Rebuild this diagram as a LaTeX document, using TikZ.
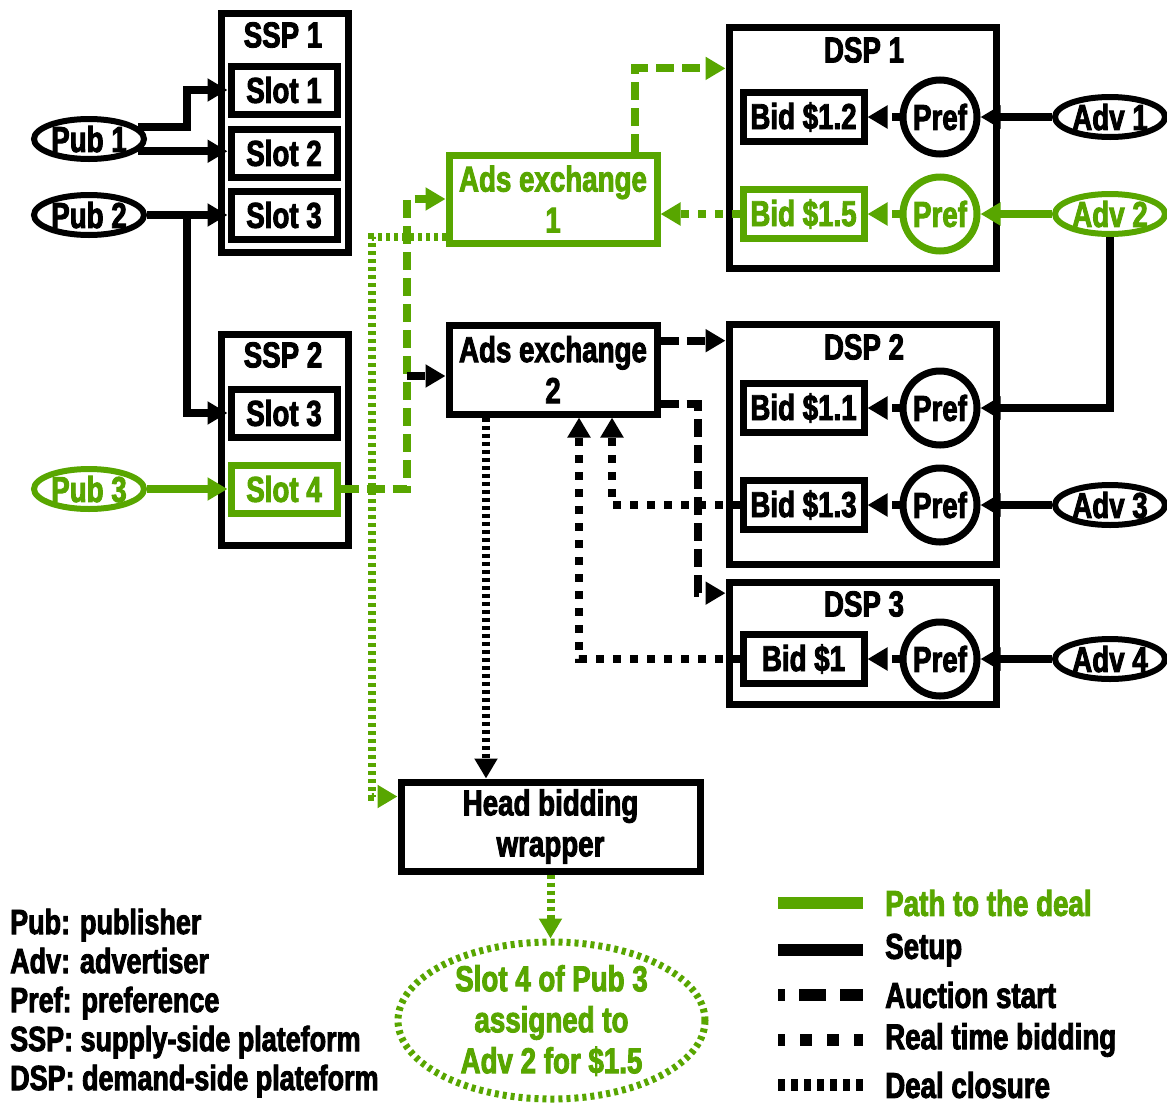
\documentclass[tikz,border=0pt]{standalone}
\usepackage{fontspec}
\setmainfont{Liberation Sans}[UprightFont={* Bold}, FakeStretch=0.77, FakeBold=2.5]
\usetikzlibrary{arrows.meta, shapes.geometric}
\definecolor{dealgreen}{RGB}{88,166,0}
\newcommand{\bigtxt}{\fontsize{36}{41}\selectfont}
\newcommand{\smalltxt}{\fontsize{35}{39}\selectfont}
\newcommand{\flatlbl}[1]{\raisebox{-0.36em}[0pt][0pt]{#1}}

\begin{document}
\begin{tikzpicture}[x=1pt, y=-1pt,
    every node/.style={font=\bigtxt},
    box/.style={draw, line width=7pt, inner sep=0pt},
    slotbox/.style={box, minimum width=106pt, minimum height=48pt},
    bidbox/.style={box, minimum width=121pt, minimum height=49pt},
    prefnode/.style={circle, draw, line width=7pt, minimum size=74pt, inner sep=0pt},
    party/.style={ellipse, draw, line width=6pt, minimum width=110pt, minimum height=40pt, inner sep=0pt},
    win/.style={dealgreen},
    setup/.style={line width=8pt, -{Triangle[length=20pt,width=22pt]}},
    auction/.style={setup, dash pattern=on 18pt off 8pt},
    rtb/.style={setup, dash pattern=on 8pt off 9pt},
    closure/.style={setup, dash pattern=on 4pt off 4pt},
    keyline/.style={line width=12pt},
    legtext/.style={anchor=west, inner sep=0pt}
  ]
  \useasboundingbox (0,0) rectangle (1167,1106);

  % supply side
  \node[box, minimum width=127pt, minimum height=239pt] (ssp1) at (284.5,132.5) {};
  \node (ssp1lbl) at (283,35) {SSP 1};
  \node[slotbox] (slot1) at (284,90) {Slot 1};
  \node[slotbox] (slot2) at (284,153) {Slot 2};
  \node[slotbox] (slot3a) at (284,215) {Slot 3};

  \node[box, minimum width=127pt, minimum height=211pt] (ssp2) at (284.5,439.5) {};
  \node (ssp2lbl) at (283,355) {SSP 2};
  \node[slotbox] (slot3b) at (284,413) {Slot 3};
  \node[slotbox, win] (slot4) at (284,489) {Slot 4};

  \node[party] (pub1) at (89,139) {\flatlbl{Pub 1}};
  \node[party] (pub2) at (89,215) {\flatlbl{Pub 2}};
  \node[party, win] (pub3) at (89,489) {\flatlbl{Pub 3}};

  % exchanges
  \node[box, win, align=center, minimum width=208pt, minimum height=88pt] (ax1) at (553,199) {Ads exchange\\1};
  \node[box, align=center, minimum width=208pt, minimum height=89pt] (ax2) at (553,369.5) {Ads exchange\\2};

  % demand side
  \node[box, minimum width=267pt, minimum height=241pt] (dsp1) at (862.5,147.5) {};
  \node (dsp1lbl) at (864,50) {DSP 1};
  \node[bidbox] (bid12) at (803.5,117) {Bid \$1.2};
  \node[prefnode] (pref11) at (940,117) {Pref};
  \node[party] (adv1) at (1110,117) {\flatlbl{Adv 1}};
  \node[bidbox, win] (bid15) at (803.5,214) {Bid \$1.5};
  \node[prefnode, win] (pref12) at (940,214) {Pref};
  \node[party, win] (adv2) at (1110,214) {\flatlbl{Adv 2}};

  \node[box, minimum width=267pt, minimum height=240pt] (dsp2) at (862.5,444) {};
  \node (dsp2lbl) at (864,347) {DSP 2};
  \node[bidbox] (bid11) at (803.5,408) {Bid \$1.1};
  \node[prefnode] (pref21) at (940,408) {Pref};
  \node[bidbox] (bid13) at (803.5,505) {Bid \$1.3};
  \node[prefnode] (pref22) at (940,505) {Pref};
  \node[party] (adv3) at (1110,505) {\flatlbl{Adv 3}};

  \node[box, minimum width=267pt, minimum height=122pt] (dsp3) at (862.5,643) {};
  \node (dsp3lbl) at (864,604) {DSP 3};
  \node[bidbox] (bid1) at (803.5,659) {Bid \$1};
  \node[prefnode] (pref31) at (940,659) {Pref};
  \node[party] (adv4) at (1110,659) {\flatlbl{Adv 4}};

  % wrapper and outcome
  \node[box, align=center, minimum width=299pt, minimum height=89pt] (hbw) at (550.5,826.5) {Head bidding\\wrapper};
  \node[ellipse, draw, win, line width=7pt, dash pattern=on 4pt off 4pt, align=center,
        minimum width=307pt, minimum height=157pt, inner sep=0pt] (deal) at (551.5,1020.5)
        {Slot 4 of Pub 3\\assigned to\\Adv 2 for \$1.5};

  \coordinate (split2) at (187,215);
  \coordinate (split3) at (407,376);

  % setup
  \draw[setup] (pub1.14) -| (split2 |- slot1) -- (slot1);
  \draw[setup] (pub1.-14) -- (pub1.-14 -| slot2.west);
  \draw[setup] (pub2) -- (slot3a);
  \draw[setup] (split2) |- (slot3b);
  \draw[setup, win] (pub3) -- (slot4);
  \draw[setup] (adv1) -- (pref11);
  \draw[setup, win] (adv2) -- (pref12);
  \draw[setup] (adv2) |- (pref21);
  \draw[setup] (adv3) -- (pref22);
  \draw[setup] (adv4) -- (pref31);

  % auction start
  \draw[auction, win] (slot4) -| (split3) |- (ax1);
  \draw[auction] (split3) -- (split3 -| ax2.west);
  \draw[auction, win] (ax1.30) |- (dsp1.150);
  \draw[auction] (ax2.15) -- (ax2.15 -| dsp2.west);
  \draw[auction] (ax2.-18) -- ++(37,0) |- (dsp3.160);

  % real time bidding
  \foreach \p/\b in {pref11/bid12, pref21/bid11, pref22/bid13, pref31/bid1}
    \draw[rtb] (\p) -- (\b);
  \draw[rtb, win] (pref12) -- (bid15);
  \draw[rtb, win] (bid15) -- (bid15 -| ax1.east);
  \draw[rtb] (bid13) -| ([xshift=59pt]ax2.south);
  \draw[rtb] (bid1) -| ([xshift=26pt]ax2.south);

  % deal closure
  \draw[closure, win] ([yshift=-38pt]ax1.west) -| ([xshift=-26pt,yshift=30pt]hbw.west) -- ([yshift=30pt]hbw.west);
  \draw[closure] ([xshift=-67pt]ax2.south) -- ([xshift=-67pt]ax2.south |- hbw.north);
  \draw[closure, win] (hbw.south) -- (hbw.south |- deal.north);

  % legends
  \node[legtext, align=left, font=\smalltxt] (abbrev) at (10,1003)
    {Pub: publisher\\Adv: advertiser\\Pref: preference\\SSP: supply-side plateform\\DSP: demand-side plateform};
  \node[legtext, win] (leg1) at (885,903) {Path to the deal};
  \node[legtext] (leg2) at (885,950) {Setup};
  \node[legtext] (leg3) at (885,995) {Auction start};
  \node[legtext] (leg4) at (885,1040) {Real time bidding};
  \node[legtext] (leg5) at (885,1085) {Deal closure};
  \draw[keyline, dealgreen] ([xshift=-107pt]leg1.west) -- ([xshift=-22pt]leg1.west);
  \draw[keyline] ([xshift=-107pt]leg2.west) -- ([xshift=-22pt]leg2.west);
  \draw[keyline, dash pattern=on 27pt off 14pt, dash phase=20pt] ([xshift=-107pt]leg3.west) -- ([xshift=-22pt]leg3.west);
  \draw[keyline, dash pattern=on 12pt off 15pt, dash phase=5pt] ([xshift=-107pt]leg4.west) -- ([xshift=-22pt]leg4.west);
  \draw[keyline, dash pattern=on 7pt off 6pt] ([xshift=-107pt]leg5.west) -- ([xshift=-22pt]leg5.west);
\end{tikzpicture}
\end{document}
